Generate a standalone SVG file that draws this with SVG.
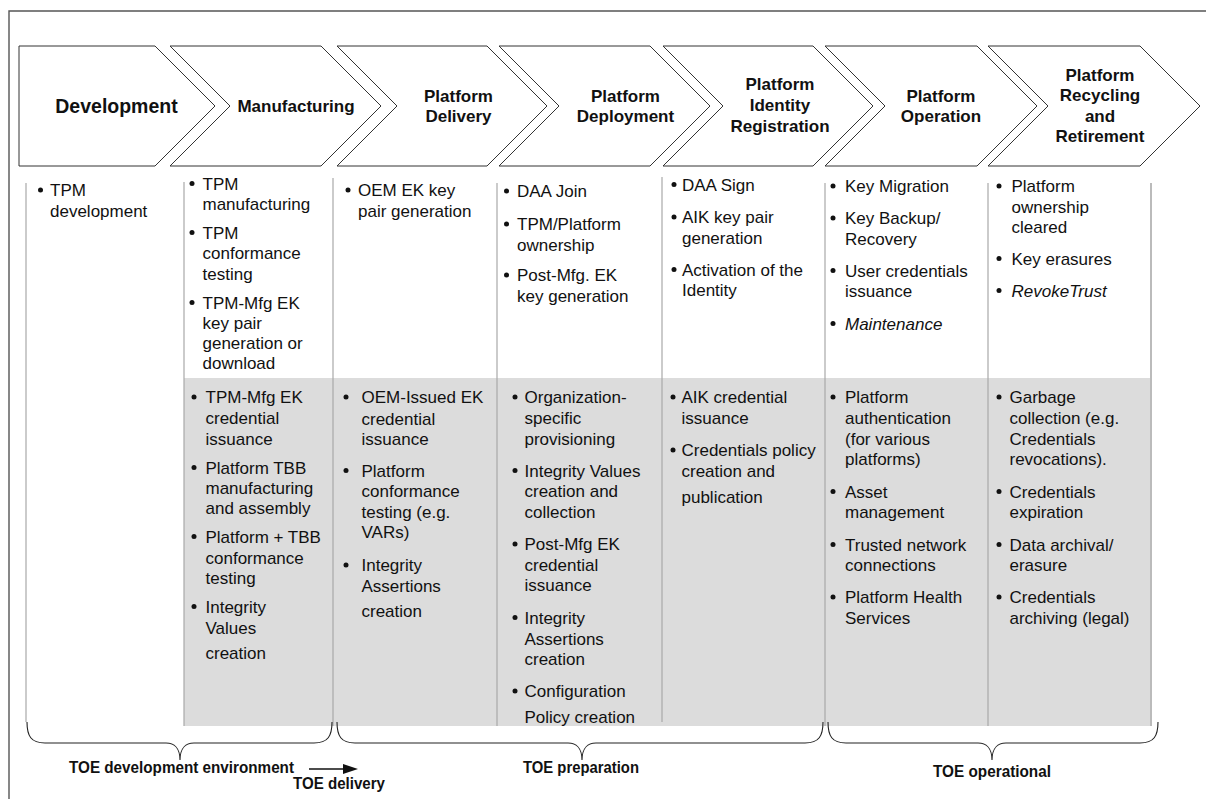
<svg xmlns="http://www.w3.org/2000/svg" width="1206" height="799" viewBox="0 0 1206 799">
<style>
.chev{fill:#fff;stroke:#333;stroke-width:1}
.h{font-family:"Liberation Sans",Arial,sans-serif;font-weight:bold;font-size:17px;fill:#111;text-anchor:middle}
.t{font-family:"Liberation Sans",Arial,sans-serif;font-size:17px;fill:#111}
.i{font-style:italic}
.b{fill:#111}
.col{stroke:#a8a8a8;stroke-width:1.2;fill:none}
.brace{fill:none;stroke:#222;stroke-width:1.1}
.f{font-family:"Liberation Sans",Arial,sans-serif;font-weight:bold;font-size:17px;fill:#111;text-anchor:middle}
</style>
<rect x="0" y="0" width="1206" height="799" fill="#fff"/>
<path d="M9,799 V11 H1206" fill="none" stroke="#555" stroke-width="1.4"/>

<!-- gray band -->
<rect x="184" y="378" width="966" height="348" fill="#dcdcdc"/>

<!-- column separator lines -->
<g id="columns">
<line class="col" x1="26" y1="183" x2="26" y2="722"/>
<line class="col" x1="184" y1="182" x2="184" y2="726"/>
<line class="col" x1="333" y1="178" x2="333" y2="726"/>
<line class="col" x1="497" y1="183" x2="497" y2="726"/>
<line class="col" x1="662" y1="177" x2="662" y2="722"/>
<line class="col" x1="825" y1="183" x2="825" y2="726"/>
<line class="col" x1="988" y1="183" x2="988" y2="726"/>
<line x1="1151" y1="183" x2="1151" y2="726" stroke="#b4b4b4" stroke-width="1.8"/>
</g>

<!-- chevrons -->
<g id="n-development">
<polygon class="chev" points="19,46 155,46 215,106 155,166 19,166"/>
<text class="h" x="116.5" y="113.3" style="font-size:19.5px">Development</text>
</g>
<g id="n-manufacturing">
<polygon class="chev" points="170,46 321,46 381,106 321,166 170,166 230,106"/>
<text class="h" x="296" y="112">Manufacturing</text>
</g>
<g id="n-delivery">
<polygon class="chev" points="337,46 487,46 547,106 487,166 337,166 397,106"/>
<text class="h" x="458.5" y="101.5">Platform</text>
<text class="h" x="458.5" y="121.5">Delivery</text>
</g>
<g id="n-deployment">
<polygon class="chev" points="499,46 650,46 710,106 650,166 499,166 559,106"/>
<text class="h" x="625.5" y="101.5">Platform</text>
<text class="h" x="625.5" y="121.5">Deployment</text>
</g>
<g id="n-identity">
<polygon class="chev" points="663,46 813,46 873,106 813,166 663,166 723,106"/>
<text class="h" x="780" y="90">Platform</text>
<text class="h" x="780" y="111">Identity</text>
<text class="h" x="780" y="131.5">Registration</text>
</g>
<g id="n-operation">
<polygon class="chev" points="825,46 977,46 1037,106 977,166 825,166 885,106"/>
<text class="h" x="941" y="101.5">Platform</text>
<text class="h" x="941" y="121.5">Operation</text>
</g>
<g id="n-recycling">
<polygon class="chev" points="988,46 1140,46 1200,106 1140,166 988,166 1048,106"/>
<text class="h" x="1100" y="80.5">Platform</text>
<text class="h" x="1100" y="101.2">Recycling</text>
<text class="h" x="1100" y="121.5">and</text>
<text class="h" x="1100" y="142">Retirement</text>
</g>

<!-- column 1 -->
<g id="c1">
<circle class="b" cx="40.5" cy="190" r="2.5"/>
<text class="t" x="50" y="196">TPM</text>
<text class="t" x="50" y="216.5">development</text>
</g>

<!-- column 2 -->
<g id="c2-top">
<circle class="b" cx="192" cy="183.5" r="2.5"/>
<text class="t" x="202.5" y="189.5">TPM</text>
<text class="t" x="202.5" y="209.5">manufacturing</text>
<circle class="b" cx="192" cy="232.5" r="2.5"/>
<text class="t" x="202.5" y="238.5">TPM</text>
<text class="t" x="202.5" y="259">conformance</text>
<text class="t" x="202.5" y="279.5">testing</text>
<circle class="b" cx="192" cy="302.5" r="2.5"/>
<text class="t" x="202.5" y="308.5">TPM-Mfg EK</text>
<text class="t" x="202.5" y="328.5">key pair</text>
<text class="t" x="202.5" y="348.5">generation or</text>
<text class="t" x="202.5" y="369">download</text>
</g>
<g id="c2-bottom">
<circle class="b" cx="194" cy="397" r="2.5"/>
<text class="t" x="205.5" y="403">TPM-Mfg EK</text>
<text class="t" x="205.5" y="424">credential</text>
<text class="t" x="205.5" y="444.5">issuance</text>
<circle class="b" cx="194" cy="467.5" r="2.5"/>
<text class="t" x="205.5" y="473.5">Platform TBB</text>
<text class="t" x="205.5" y="494">manufacturing</text>
<text class="t" x="205.5" y="513.5">and assembly</text>
<circle class="b" cx="194" cy="536.5" r="2.5"/>
<text class="t" x="205.5" y="542.5">Platform + TBB</text>
<text class="t" x="205.5" y="563.5">conformance</text>
<text class="t" x="205.5" y="583.5">testing</text>
<circle class="b" cx="194" cy="606.5" r="2.5"/>
<text class="t" x="205.5" y="612.5">Integrity</text>
<text class="t" x="205.5" y="633.5">Values</text>
<text class="t" x="205.5" y="658.5">creation</text>
</g>

<!-- column 3 -->
<g id="c3-top">
<circle class="b" cx="348" cy="190" r="2.5"/>
<text class="t" x="358" y="196">OEM EK key</text>
<text class="t" x="358" y="216.5">pair generation</text>
</g>
<g id="c3-bottom">
<circle class="b" cx="346" cy="397" r="2.5"/>
<text class="t" x="361.5" y="403">OEM-Issued EK</text>
<text class="t" x="361.5" y="424.5">credential</text>
<text class="t" x="361.5" y="445">issuance</text>
<circle class="b" cx="346" cy="470.5" r="2.5"/>
<text class="t" x="361.5" y="476.5">Platform</text>
<text class="t" x="361.5" y="497">conformance</text>
<text class="t" x="361.5" y="517.5">testing (e.g.</text>
<text class="t" x="361.5" y="538">VARs)</text>
<circle class="b" cx="346" cy="565" r="2.5"/>
<text class="t" x="361.5" y="571">Integrity</text>
<text class="t" x="361.5" y="591.5">Assertions</text>
<text class="t" x="361.5" y="617">creation</text>
</g>

<!-- column 4 -->
<g id="c4-top">
<circle class="b" cx="506.5" cy="191" r="2.5"/>
<text class="t" x="517" y="197">DAA Join</text>
<circle class="b" cx="506.5" cy="224" r="2.5"/>
<text class="t" x="517" y="230">TPM/Platform</text>
<text class="t" x="517" y="250.5">ownership</text>
<circle class="b" cx="506.5" cy="275" r="2.5"/>
<text class="t" x="517" y="281">Post-Mfg. EK</text>
<text class="t" x="517" y="301.5">key generation</text>
</g>
<g id="c4-bottom">
<circle class="b" cx="515" cy="397" r="2.5"/>
<text class="t" x="524.5" y="403">Organization-</text>
<text class="t" x="524.5" y="424">specific</text>
<text class="t" x="524.5" y="444.5">provisioning</text>
<circle class="b" cx="515" cy="470.5" r="2.5"/>
<text class="t" x="524.5" y="476.5">Integrity Values</text>
<text class="t" x="524.5" y="497">creation and</text>
<text class="t" x="524.5" y="517.5">collection</text>
<circle class="b" cx="515" cy="544" r="2.5"/>
<text class="t" x="524.5" y="550">Post-Mfg EK</text>
<text class="t" x="524.5" y="570.5">credential</text>
<text class="t" x="524.5" y="591">issuance</text>
<circle class="b" cx="515" cy="617.5" r="2.5"/>
<text class="t" x="524.5" y="623.5">Integrity</text>
<text class="t" x="524.5" y="644.5">Assertions</text>
<text class="t" x="524.5" y="665">creation</text>
<circle class="b" cx="515" cy="691" r="2.5"/>
<text class="t" x="524.5" y="697">Configuration</text>
<text class="t" x="524.5" y="723">Policy creation</text>
</g>

<!-- column 5 -->
<g id="c5-top">
<circle class="b" cx="674" cy="184.5" r="2.5"/>
<text class="t" x="682" y="190.5">DAA Sign</text>
<circle class="b" cx="674" cy="217" r="2.5"/>
<text class="t" x="682" y="223">AIK key pair</text>
<text class="t" x="682" y="243.5">generation</text>
<circle class="b" cx="674" cy="269.5" r="2.5"/>
<text class="t" x="682" y="275.5">Activation of the</text>
<text class="t" x="682" y="296">Identity</text>
</g>
<g id="c5-bottom">
<circle class="b" cx="673" cy="397" r="2.5"/>
<text class="t" x="681.5" y="403">AIK credential</text>
<text class="t" x="681.5" y="424">issuance</text>
<circle class="b" cx="673" cy="450" r="2.5"/>
<text class="t" x="681.5" y="456">Credentials policy</text>
<text class="t" x="681.5" y="477">creation and</text>
<text class="t" x="681.5" y="502.5">publication</text>
</g>

<!-- column 6 -->
<g id="c6-top">
<circle class="b" cx="833" cy="186" r="2.5"/>
<text class="t" x="845" y="192">Key Migration</text>
<circle class="b" cx="833" cy="218" r="2.5"/>
<text class="t" x="845" y="224">Key Backup/</text>
<text class="t" x="845" y="244.5">Recovery</text>
<circle class="b" cx="833" cy="270.5" r="2.5"/>
<text class="t" x="845" y="276.5">User credentials</text>
<text class="t" x="845" y="297">issuance</text>
<circle class="b" cx="833" cy="323.5" r="2.5"/>
<text class="t i" x="845" y="329.5">Maintenance</text>
</g>
<g id="c6-bottom">
<circle class="b" cx="833" cy="397" r="2.5"/>
<text class="t" x="845" y="403">Platform</text>
<text class="t" x="845" y="424">authentication</text>
<text class="t" x="845" y="444.5">(for various</text>
<text class="t" x="845" y="465">platforms)</text>
<circle class="b" cx="833" cy="491.5" r="2.5"/>
<text class="t" x="845" y="497.5">Asset</text>
<text class="t" x="845" y="517.5">management</text>
<circle class="b" cx="833" cy="544.5" r="2.5"/>
<text class="t" x="845" y="550.5">Trusted network</text>
<text class="t" x="845" y="570.5">connections</text>
<circle class="b" cx="833" cy="597" r="2.5"/>
<text class="t" x="845" y="603">Platform Health</text>
<text class="t" x="845" y="623.5">Services</text>
</g>

<!-- column 7 -->
<g id="c7-top">
<circle class="b" cx="999" cy="186" r="2.5"/>
<text class="t" x="1011.5" y="192">Platform</text>
<text class="t" x="1011.5" y="212.5">ownership</text>
<text class="t" x="1011.5" y="233">cleared</text>
<circle class="b" cx="999" cy="258.5" r="2.5"/>
<text class="t" x="1011.5" y="264.5">Key erasures</text>
<circle class="b" cx="999" cy="290.5" r="2.5"/>
<text class="t i" x="1011.5" y="296.5">RevokeTrust</text>
</g>
<g id="c7-bottom">
<circle class="b" cx="999" cy="397" r="2.5"/>
<text class="t" x="1009.5" y="403">Garbage</text>
<text class="t" x="1009.5" y="424">collection (e.g.</text>
<text class="t" x="1009.5" y="444.5">Credentials</text>
<text class="t" x="1009.5" y="465">revocations).</text>
<circle class="b" cx="999" cy="491.5" r="2.5"/>
<text class="t" x="1009.5" y="497.5">Credentials</text>
<text class="t" x="1009.5" y="517.5">expiration</text>
<circle class="b" cx="999" cy="544.5" r="2.5"/>
<text class="t" x="1009.5" y="550.5">Data archival/</text>
<text class="t" x="1009.5" y="570.5">erasure</text>
<circle class="b" cx="999" cy="597" r="2.5"/>
<text class="t" x="1009.5" y="603">Credentials</text>
<text class="t" x="1009.5" y="623.5">archiving (legal)</text>
</g>

<!-- braces and phase labels -->
<g id="connectors">
<path class="brace" d="M27,722 C27,736 31,743 45,743 H166 C174,743 180,748 180,760 C180,748 186,743 194,743 H314 C328,743 332,736 332,722"/>
<path class="brace" d="M337,722 C337,736 341,743 355,743 H568 C576,743 582,748 582,760 C582,748 588,743 596,743 H805 C819,743 823,736 823,722"/>
<path class="brace" d="M828,722 C828,736 832,743 846,743 H978 C986,743 992,748 992,760 C992,748 998,743 1006,743 H1140 C1154,743 1158,736 1158,722"/>
<line x1="309" y1="769" x2="345" y2="769" stroke="#111" stroke-width="1.3"/>
<polygon points="343,764 358,769 343,774" fill="#111"/>
</g>
<g id="labels">
<text class="f" x="181.5" y="772.7" textLength="225" lengthAdjust="spacingAndGlyphs">TOE development environment</text>
<text class="f" x="339" y="789.3" textLength="92" lengthAdjust="spacingAndGlyphs">TOE delivery</text>
<text class="f" x="581" y="773" textLength="116" lengthAdjust="spacingAndGlyphs">TOE preparation</text>
<text class="f" x="992" y="777" textLength="118" lengthAdjust="spacingAndGlyphs">TOE operational</text>
</g>
</svg>
